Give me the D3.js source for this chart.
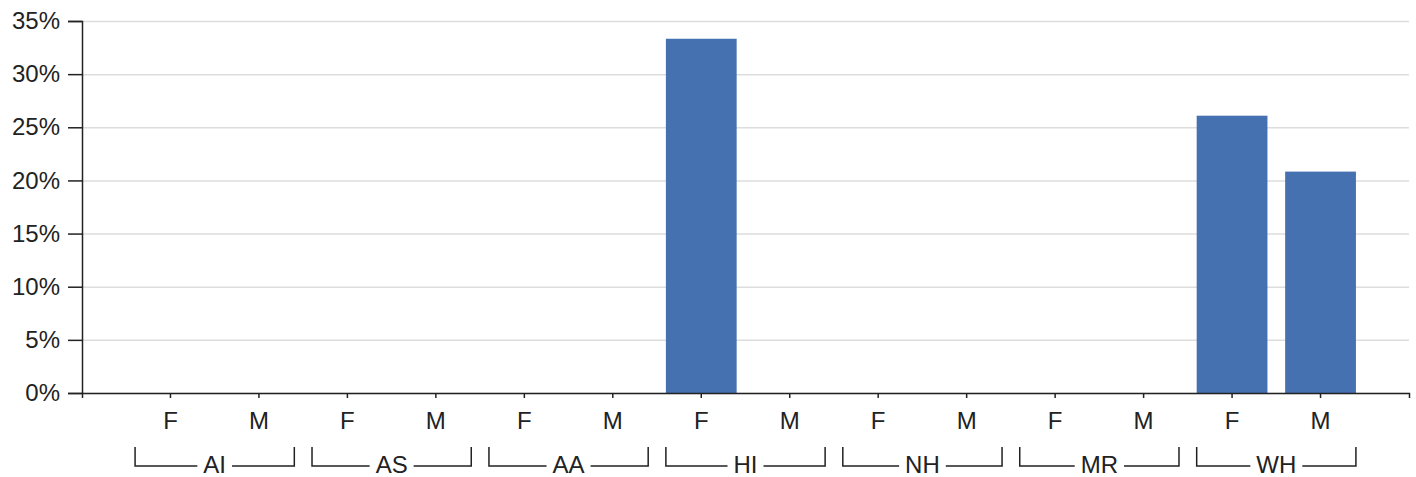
<!DOCTYPE html>
<html>
<head>
<meta charset="utf-8">
<script src="https://cdn.jsdelivr.net/npm/d3@7"></script>
<style>
  body { margin: 0; background: #fff; }
  text { font-family: "Liberation Sans", Arial, sans-serif; fill: #222; }
  .grid line { stroke: #ddd; stroke-width: 1.5; }
  .grid .domain { display: none; }
  .axis path, .axis line { stroke: #222; stroke-width: 1.5; }
</style>
</head>
<body>
<svg id="chart"></svg>
<script>
// Data
const groups = ["AI", "AS", "AA", "HI", "NH", "MR", "WH"];
const genders = ["F", "M"];
const femaleValues = [0, 0, 0, 33.33, 0, 0, 26.09];
const maleValues = [0, 0, 0, 0, 0, 0, 20.83];
const yTicks = [0, 5, 10, 15, 20, 25, 30, 35];

// Configuration
const W = 1416, H = 477;
const margin = { top: 21, right: 7, bottom: 84, left: 82 };
const width = W - margin.left - margin.right;
const height = H - margin.top - margin.bottom;
const barColor = "#4571b0";
const fontSize = 24;

const rows = [];
groups.forEach((g, i) => {
    rows.push({ key: g + "-F", group: g, gender: "F", value: femaleValues[i] });
    rows.push({ key: g + "-M", group: g, gender: "M", value: maleValues[i] });
});

const svg = d3.select("#chart")
    .attr("width", W)
    .attr("height", H)
    .append("g")
    .attr("transform", `translate(${margin.left},${margin.top})`);

// Scales
const x = d3.scaleBand()
    .domain(rows.map(d => d.key))
    .range([0, width])
    .paddingInner(0.2)
    .paddingOuter(0.6);

const y = d3.scaleLinear()
    .domain([0, 35])
    .range([height, 0]);

// Gridlines
svg.append("g")
    .attr("class", "grid")
    .call(d3.axisLeft(y).tickValues(yTicks).tickSize(-width).tickFormat(""));

// Bars
svg.selectAll("rect.bar")
    .data(rows)
    .join("rect")
    .attr("class", "bar")
    .attr("x", d => x(d.key))
    .attr("y", d => y(d.value))
    .attr("width", x.bandwidth())
    .attr("height", d => height - y(d.value))
    .attr("fill", barColor);

// Y axis
const yAxis = svg.append("g")
    .attr("class", "axis")
    .call(d3.axisLeft(y).tickValues(yTicks).tickSize(14).tickPadding(8)
        .tickFormat(d => d + "%"));
yAxis.selectAll("text").style("font-size", fontSize + "px");

// X axis
const xAxis = svg.append("g")
    .attr("class", "axis")
    .attr("transform", `translate(0,${height})`)
    .call(d3.axisBottom(x).tickSize(5).tickPadding(14)
        .tickFormat(k => k.split("-")[1]));
xAxis.selectAll("text").style("font-size", fontSize + "px");

// Group brackets
const bracketTop = 447 - margin.top;
const bracketY = 466 - margin.top;
const labelY = 473 - margin.top;
const gap = 6;

groups.forEach(g => {
    const x0 = x(g + "-F");
    const x1 = x(g + "-M") + x.bandwidth();
    const cx = (x0 + x1) / 2;
    const br = svg.append("g").attr("class", "bracket");

    const label = br.append("text")
        .attr("x", cx)
        .attr("y", labelY)
        .attr("text-anchor", "middle")
        .style("font-size", fontSize + "px")
        .text(g);
    const tw = label.node().getComputedTextLength();

    const line = d3.line();
    br.append("path")
        .attr("d", line([[x0, bracketTop], [x0, bracketY], [cx - tw / 2 - gap, bracketY]]))
        .attr("fill", "none").attr("stroke", "#222").attr("stroke-width", 1.5);
    br.append("path")
        .attr("d", line([[cx + tw / 2 + gap, bracketY], [x1, bracketY], [x1, bracketTop]]))
        .attr("fill", "none").attr("stroke", "#222").attr("stroke-width", 1.5);
});
</script>
</body>
</html>
